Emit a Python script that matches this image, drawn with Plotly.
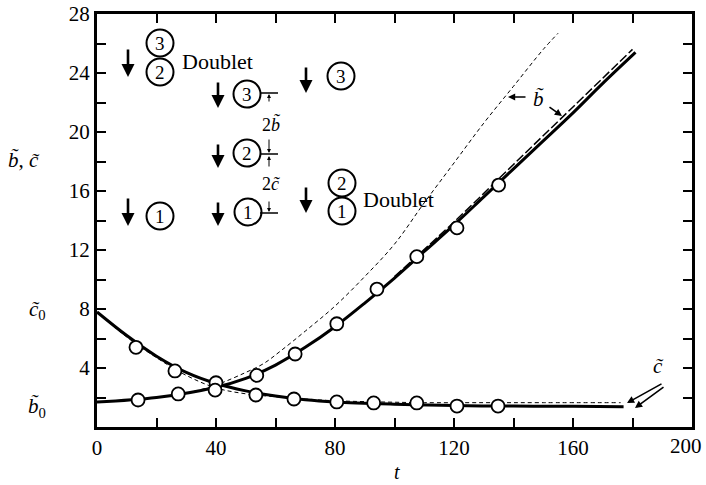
import plotly.graph_objects as go

# ---------------- data ----------------
t_b_solid = [0, 20, 40, 50, 60, 70, 80, 90, 100, 110, 120, 130, 140, 150, 160, 170, 181]
b_solid = [1.7, 2.0, 2.7, 3.3, 4.2, 5.4, 6.8, 8.4, 10.1, 11.9, 13.7, 15.6, 17.5, 19.4, 21.3, 23.3, 25.4]

t_b_long = [100, 120, 140, 160, 180]
b_long = [10.2, 13.9, 17.8, 21.7, 25.6]

t_b_thin = [0, 20, 30, 40, 50, 56, 62, 70, 80, 90, 100, 110, 120, 130, 140, 150, 155]
b_thin = [1.7, 2.0, 2.3, 2.85, 3.7, 4.3, 5.2, 6.5, 8.2, 10.2, 12.4, 15.2, 17.9, 20.6, 23.1, 25.6, 26.7]

t_c_solid = [0, 10, 20, 30, 40, 50, 60, 70, 80, 100, 120, 140, 160, 177]
c_solid = [7.8, 6.2, 4.8, 3.7, 2.95, 2.45, 2.1, 1.85, 1.7, 1.55, 1.45, 1.42, 1.4, 1.38]

t_c_thin = [0, 10, 20, 30, 40, 50, 60, 70, 80, 100, 110, 130, 150, 176]
c_thin = [7.8, 6.1, 4.7, 3.5, 2.65, 2.25, 2.05, 1.9, 1.78, 1.68, 1.65, 1.65, 1.65, 1.65]

t_b_pts = [13.8, 27.3, 40, 53.7, 66.6, 80.6, 94.1, 107.5, 121, 135]
b_pts = [1.83, 2.24, 3.0, 3.5, 4.95, 7.0, 9.35, 11.55, 13.5, 16.4]

t_c_pts = [13.1, 26.2, 39.7, 53.4, 66.2, 80.6, 93, 107.5, 121, 134.8]
c_pts = [5.4, 3.8, 2.5, 2.17, 1.9, 1.7, 1.63, 1.63, 1.42, 1.42]

x_ticks = [0, 40, 80, 120, 160]
x_last_tick = "200"
y_ticks = [4, 8, 12, 16, 20, 24, 28]

# ---------------- helpers (pixel -> data for annotations) ----------------
L, R, TOP, BOT = 97, 692, 14, 427
XMAX, YMAX = 200, 28


def T(px):
    return (px - L) * XMAX / (R - L)


def Y(py):
    return (BOT - py) * YMAX / (BOT - TOP)


SERIF = "Liberation Serif, Times New Roman, serif"
K = "black"

fig = go.Figure()

fig.add_trace(go.Scatter(x=t_b_thin, y=b_thin, mode="lines", line=dict(color=K, width=1, dash="4px,3px", shape="spline")))
fig.add_trace(go.Scatter(x=t_c_thin, y=c_thin, mode="lines", line=dict(color=K, width=1, dash="4px,3px", shape="spline")))
fig.add_trace(go.Scatter(x=t_b_long, y=b_long, mode="lines", line=dict(color=K, width=1.5, dash="9px,3px", shape="spline")))
fig.add_trace(go.Scatter(x=t_b_solid, y=b_solid, mode="lines", line=dict(color=K, width=3, shape="spline")))
fig.add_trace(go.Scatter(x=t_c_solid, y=c_solid, mode="lines", line=dict(color=K, width=3, shape="spline")))
fig.add_trace(go.Scatter(x=t_b_pts, y=b_pts, mode="markers",
                         marker=dict(symbol="circle", size=13, color="white", line=dict(color=K, width=1.8))))
fig.add_trace(go.Scatter(x=t_c_pts, y=c_pts, mode="markers",
                         marker=dict(symbol="circle", size=13, color="white", line=dict(color=K, width=1.8))))

shapes = []
annotations = []


def circle(cx, cy, label):
    shapes.append(dict(type="circle", xref="x", yref="y", xsizemode="pixel", ysizemode="pixel",
                       xanchor=T(cx), yanchor=Y(cy), x0=-13.5, x1=13.5, y0=-13.5, y1=13.5,
                       line=dict(color=K, width=2), fillcolor="rgba(0,0,0,0)"))
    annotations.append(dict(x=T(cx), y=Y(cy), xref="x", yref="y", text=label, showarrow=False,
                            xanchor="center", yanchor="middle",
                            font=dict(family=SERIF, size=19, color=K)))


def arrow(x0, y0, x1, y1, width, size):
    annotations.append(dict(x=T(x1), y=Y(y1), ax=T(x0), ay=Y(y0), xref="x", yref="y", axref="x", ayref="y",
                            text="", showarrow=True, arrowhead=2, arrowsize=size, arrowwidth=width, arrowcolor=K,
                            font=dict(family=SERIF, size=10, color=K)))


def down_arrow(x, y0, y1):
    arrow(x, y0, x, y1, 2.6, 1)


def small_arrow(x, y0, y1):
    arrow(x, y0, x, y1, 1, 0.8)


def hline(x0, x1, y):
    shapes.append(dict(type="line", xref="x", yref="y", x0=T(x0), x1=T(x1), y0=Y(y), y1=Y(y),
                       line=dict(color=K, width=1.5)))


def text(x, y, s, size=20):
    annotations.append(dict(x=T(x), y=Y(y), xref="x", yref="y", text=s, showarrow=False,
                            xanchor="center", yanchor="middle",
                            font=dict(family=SERIF, size=size, color=K)))


# group 1
down_arrow(128, 48, 77)
circle(160, 43, "3")
circle(160, 72, "2")
text(217, 61, "Doublet", 22)
down_arrow(128, 197, 226)
circle(160, 216, "1")

# group 2
down_arrow(218, 81, 108)
circle(247, 94, "3")
down_arrow(218, 143, 168)
circle(247, 153, "2")
down_arrow(218, 201, 226)
circle(248, 212, "1")
hline(260, 278, 93)
hline(260, 278, 154)
hline(260, 278, 213)
small_arrow(269, 103, 94)
text(271, 124, "2<i>b̃</i>", 18)
small_arrow(269, 138, 153)
small_arrow(269, 168, 156)
text(271, 184, "2<i>c̃</i>", 18)
small_arrow(269, 200, 212)

# group 3
down_arrow(306, 66, 93)
circle(341, 76, "3")
down_arrow(306, 186, 213)
circle(342, 183, "2")
circle(342, 211, "1")
text(398, 199, "Doublet", 22)

# curve labels
text(538, 99, "<i>b̃</i>", 21)
arrow(527, 97, 508, 97, 1.6, 0.9)
arrow(548, 106, 562, 116, 1.6, 0.9)
text(658, 366, "<i>c̃</i>", 21)
arrow(663, 383, 627, 403, 1.6, 0.9)
arrow(665, 386, 635, 408, 1.6, 0.9)

# axis side labels (positions in pixels, converted to paper fractions)
side = [(24, 160, "<i>b̃</i>, <i>c̃</i>", 21), (37, 310, "<i>c̃</i><sub>0</sub>", 21),
        (37, 407, "<i>b̃</i><sub>0</sub>", 21), (397, 472, "<i>t</i>", 20), (686, 446, x_last_tick, 21)]
for px, py, s, fs in side:
    annotations.append(dict(x=(px - L) / (R - L), y=(BOT - py) / (BOT - TOP), xref="paper", yref="paper",
                            xanchor="center", yanchor="middle",
                            text=s, showarrow=False, font=dict(family=SERIF, size=fs, color=K)))

W, H = 706, 485
fig.update_layout(
    width=W, height=H,
    margin=dict(l=L, r=W - R, t=TOP, b=H - BOT, autoexpand=False),
    paper_bgcolor="white", plot_bgcolor="white",
    showlegend=False,
    font=dict(family=SERIF, size=21, color=K),
    shapes=shapes, annotations=annotations,
    xaxis=dict(range=[0, XMAX], tickvals=x_ticks, ticks="inside", ticklen=9, tickwidth=2, tickcolor=K,
               showline=True, linewidth=3, linecolor=K, mirror="ticks", showgrid=False, zeroline=False,
               automargin=False,
               minor=dict(dtick=20, ticks="inside", ticklen=9, tickwidth=2, tickcolor=K, showgrid=False),
               tickfont=dict(family=SERIF, size=21, color=K), ticklabelstandoff=0),
    yaxis=dict(range=[0, YMAX], tickvals=y_ticks, ticks="inside", ticklen=9, tickwidth=2, tickcolor=K,
               showline=True, linewidth=3, linecolor=K, mirror="ticks", showgrid=False, zeroline=False,
               automargin=False,
               minor=dict(dtick=2, ticks="inside", ticklen=9, tickwidth=2, tickcolor=K, showgrid=False),
               tickfont=dict(family=SERIF, size=21, color=K)),
)

fig.write_html("out.html", config={"displayModeBar": False},
               post_script="document.body.style.margin='0';document.body.style.overflow='hidden';")
